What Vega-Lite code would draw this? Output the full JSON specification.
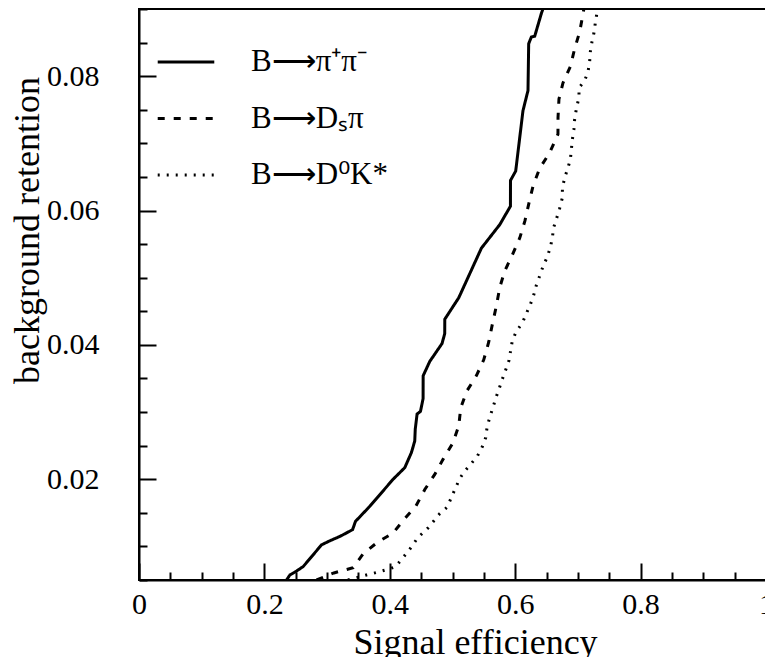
{
  "$schema": "https://vega.github.io/schema/vega-lite/v6.json",
  "width": 627,
  "height": 571,
  "autosize": {"type": "none"},
  "padding": {"left": 139, "top": 9, "right": 0, "bottom": 77},
  "background": "white",
  "config": {
    "font": "Liberation Serif",
    "view": {"stroke": "black", "strokeWidth": 2},
    "axis": {
      "grid": false,
      "domainColor": "black",
      "domainWidth": 2,
      "tickColor": "black",
      "tickWidth": 2,
      "labelColor": "black",
      "titleColor": "black",
      "labelFont": "Liberation Serif",
      "titleFont": "Liberation Serif",
      "labelFontSize": 30,
      "titleFontSize": 36,
      "titleFontWeight": "normal"
    }
  },
  "data": {
    "values": [
      {"s": "B⟶π⁺π⁻", "x": 0.2354, "y": 0.005},
      {"s": "B⟶π⁺π⁻", "x": 0.2406, "y": 0.00575},
      {"s": "B⟶π⁺π⁻", "x": 0.2497, "y": 0.00624},
      {"s": "B⟶π⁺π⁻", "x": 0.2618, "y": 0.00699},
      {"s": "B⟶π⁺π⁻", "x": 0.2912, "y": 0.01024},
      {"s": "B⟶π⁺π⁻", "x": 0.3044, "y": 0.01084},
      {"s": "B⟶π⁺π⁻", "x": 0.3203, "y": 0.01148},
      {"s": "B⟶π⁺π⁻", "x": 0.3406, "y": 0.01249},
      {"s": "B⟶π⁺π⁻", "x": 0.3453, "y": 0.01373},
      {"s": "B⟶π⁺π⁻", "x": 0.3681, "y": 0.01597},
      {"s": "B⟶π⁺π⁻", "x": 0.4053, "y": 0.02},
      {"s": "B⟶π⁺π⁻", "x": 0.4239, "y": 0.02172},
      {"s": "B⟶π⁺π⁻", "x": 0.4346, "y": 0.024},
      {"s": "B⟶π⁺π⁻", "x": 0.4398, "y": 0.0257},
      {"s": "B⟶π⁺π⁻", "x": 0.4406, "y": 0.02746},
      {"s": "B⟶π⁺π⁻", "x": 0.4435, "y": 0.0297},
      {"s": "B⟶π⁺π⁻", "x": 0.4489, "y": 0.0301},
      {"s": "B⟶π⁺π⁻", "x": 0.4531, "y": 0.032},
      {"s": "B⟶π⁺π⁻", "x": 0.4532, "y": 0.0354},
      {"s": "B⟶π⁺π⁻", "x": 0.4637, "y": 0.03753},
      {"s": "B⟶π⁺π⁻", "x": 0.4833, "y": 0.0402},
      {"s": "B⟶π⁺π⁻", "x": 0.4876, "y": 0.04168},
      {"s": "B⟶π⁺π⁻", "x": 0.4877, "y": 0.04382},
      {"s": "B⟶π⁺π⁻", "x": 0.51, "y": 0.04702},
      {"s": "B⟶π⁺π⁻", "x": 0.5461, "y": 0.0544},
      {"s": "B⟶π⁺π⁻", "x": 0.5753, "y": 0.05789},
      {"s": "B⟶π⁺π⁻", "x": 0.5924, "y": 0.06064},
      {"s": "B⟶π⁺π⁻", "x": 0.5925, "y": 0.06448},
      {"s": "B⟶π⁺π⁻", "x": 0.6008, "y": 0.06588},
      {"s": "B⟶π⁺π⁻", "x": 0.6124, "y": 0.07486},
      {"s": "B⟶π⁺π⁻", "x": 0.6204, "y": 0.07786},
      {"s": "B⟶π⁺π⁻", "x": 0.6215, "y": 0.08483},
      {"s": "B⟶π⁺π⁻", "x": 0.6258, "y": 0.08584},
      {"s": "B⟶π⁺π⁻", "x": 0.6311, "y": 0.08594},
      {"s": "B⟶π⁺π⁻", "x": 0.6417, "y": 0.08933},
      {"s": "B⟶π⁺π⁻", "x": 0.6454, "y": 0.09033},
      {"s": "B⟶Dₛπ", "x": 0.2832, "y": 0.005},
      {"s": "B⟶Dₛπ", "x": 0.3108, "y": 0.00605},
      {"s": "B⟶Dₛπ", "x": 0.3415, "y": 0.00683},
      {"s": "B⟶Dₛπ", "x": 0.3575, "y": 0.00889},
      {"s": "B⟶Dₛπ", "x": 0.3801, "y": 0.01061},
      {"s": "B⟶Dₛπ", "x": 0.4053, "y": 0.01199},
      {"s": "B⟶Dₛπ", "x": 0.4223, "y": 0.01398},
      {"s": "B⟶Dₛπ", "x": 0.4414, "y": 0.01597},
      {"s": "B⟶Dₛπ", "x": 0.4558, "y": 0.01847},
      {"s": "B⟶Dₛπ", "x": 0.4717, "y": 0.02072},
      {"s": "B⟶Dₛπ", "x": 0.4849, "y": 0.02296},
      {"s": "B⟶Dₛπ", "x": 0.5004, "y": 0.02536},
      {"s": "B⟶Dₛπ", "x": 0.51, "y": 0.02795},
      {"s": "B⟶Dₛπ", "x": 0.5131, "y": 0.0306},
      {"s": "B⟶Dₛπ", "x": 0.5227, "y": 0.0331},
      {"s": "B⟶Dₛπ", "x": 0.5382, "y": 0.03543},
      {"s": "B⟶Dₛπ", "x": 0.5498, "y": 0.03778},
      {"s": "B⟶Dₛπ", "x": 0.5578, "y": 0.04043},
      {"s": "B⟶Dₛπ", "x": 0.5637, "y": 0.04313},
      {"s": "B⟶Dₛπ", "x": 0.57, "y": 0.04582},
      {"s": "B⟶Dₛπ", "x": 0.5753, "y": 0.04852},
      {"s": "B⟶Dₛπ", "x": 0.5833, "y": 0.051},
      {"s": "B⟶Dₛπ", "x": 0.5955, "y": 0.0534},
      {"s": "B⟶Dₛπ", "x": 0.6072, "y": 0.0559},
      {"s": "B⟶Dₛπ", "x": 0.6156, "y": 0.05849},
      {"s": "B⟶Dₛπ", "x": 0.622, "y": 0.06114},
      {"s": "B⟶Dₛπ", "x": 0.6284, "y": 0.06364},
      {"s": "B⟶Dₛπ", "x": 0.639, "y": 0.06627},
      {"s": "B⟶Dₛπ", "x": 0.655, "y": 0.06862},
      {"s": "B⟶Dₛπ", "x": 0.6682, "y": 0.07136},
      {"s": "B⟶Dₛπ", "x": 0.6683, "y": 0.07386},
      {"s": "B⟶Dₛπ", "x": 0.6698, "y": 0.0766},
      {"s": "B⟶Dₛπ", "x": 0.6762, "y": 0.079},
      {"s": "B⟶Dₛπ", "x": 0.688, "y": 0.08145},
      {"s": "B⟶Dₛπ", "x": 0.6948, "y": 0.08409},
      {"s": "B⟶Dₛπ", "x": 0.7028, "y": 0.08659},
      {"s": "B⟶Dₛπ", "x": 0.7081, "y": 0.08924},
      {"s": "B⟶Dₛπ", "x": 0.71, "y": 0.0903},
      {"s": "B⟶D⁰K*", "x": 0.3331, "y": 0.005},
      {"s": "B⟶D⁰K*", "x": 0.3629, "y": 0.00575},
      {"s": "B⟶D⁰K*", "x": 0.3788, "y": 0.00612},
      {"s": "B⟶D⁰K*", "x": 0.3947, "y": 0.00654},
      {"s": "B⟶D⁰K*", "x": 0.4088, "y": 0.00695},
      {"s": "B⟶D⁰K*", "x": 0.4186, "y": 0.00804},
      {"s": "B⟶D⁰K*", "x": 0.4311, "y": 0.00949},
      {"s": "B⟶D⁰K*", "x": 0.4446, "y": 0.01129},
      {"s": "B⟶D⁰K*", "x": 0.4606, "y": 0.01271},
      {"s": "B⟶D⁰K*", "x": 0.4797, "y": 0.01488},
      {"s": "B⟶D⁰K*", "x": 0.4916, "y": 0.01585},
      {"s": "B⟶D⁰K*", "x": 0.4988, "y": 0.01743},
      {"s": "B⟶D⁰K*", "x": 0.5052, "y": 0.01877},
      {"s": "B⟶D⁰K*", "x": 0.5116, "y": 0.02012},
      {"s": "B⟶D⁰K*", "x": 0.5195, "y": 0.02121},
      {"s": "B⟶D⁰K*", "x": 0.5302, "y": 0.02237},
      {"s": "B⟶D⁰K*", "x": 0.5398, "y": 0.02346},
      {"s": "B⟶D⁰K*", "x": 0.5477, "y": 0.02487},
      {"s": "B⟶D⁰K*", "x": 0.553, "y": 0.02621},
      {"s": "B⟶D⁰K*", "x": 0.5551, "y": 0.02771},
      {"s": "B⟶D⁰K*", "x": 0.5594, "y": 0.02921},
      {"s": "B⟶D⁰K*", "x": 0.5646, "y": 0.0307},
      {"s": "B⟶D⁰K*", "x": 0.5689, "y": 0.03205},
      {"s": "B⟶D⁰K*", "x": 0.5742, "y": 0.03344},
      {"s": "B⟶D⁰K*", "x": 0.5796, "y": 0.03494},
      {"s": "B⟶D⁰K*", "x": 0.5849, "y": 0.03629},
      {"s": "B⟶D⁰K*", "x": 0.5901, "y": 0.03768},
      {"s": "B⟶D⁰K*", "x": 0.5928, "y": 0.03918},
      {"s": "B⟶D⁰K*", "x": 0.5955, "y": 0.04067},
      {"s": "B⟶D⁰K*", "x": 0.6019, "y": 0.04202},
      {"s": "B⟶D⁰K*", "x": 0.6115, "y": 0.04328},
      {"s": "B⟶D⁰K*", "x": 0.6178, "y": 0.04467},
      {"s": "B⟶D⁰K*", "x": 0.6242, "y": 0.04602},
      {"s": "B⟶D⁰K*", "x": 0.6295, "y": 0.04741},
      {"s": "B⟶D⁰K*", "x": 0.6338, "y": 0.04891},
      {"s": "B⟶D⁰K*", "x": 0.639, "y": 0.05025},
      {"s": "B⟶D⁰K*", "x": 0.6443, "y": 0.05166},
      {"s": "B⟶D⁰K*", "x": 0.6507, "y": 0.05301},
      {"s": "B⟶D⁰K*", "x": 0.6561, "y": 0.0545},
      {"s": "B⟶D⁰K*", "x": 0.6593, "y": 0.056},
      {"s": "B⟶D⁰K*", "x": 0.6614, "y": 0.0575},
      {"s": "B⟶D⁰K*", "x": 0.6666, "y": 0.059},
      {"s": "B⟶D⁰K*", "x": 0.6709, "y": 0.06033},
      {"s": "B⟶D⁰K*", "x": 0.6752, "y": 0.06189},
      {"s": "B⟶D⁰K*", "x": 0.6753, "y": 0.06338},
      {"s": "B⟶D⁰K*", "x": 0.6789, "y": 0.06488},
      {"s": "B⟶D⁰K*", "x": 0.6842, "y": 0.06638},
      {"s": "B⟶D⁰K*", "x": 0.688, "y": 0.06762},
      {"s": "B⟶D⁰K*", "x": 0.6896, "y": 0.06912},
      {"s": "B⟶D⁰K*", "x": 0.6912, "y": 0.07061},
      {"s": "B⟶D⁰K*", "x": 0.6937, "y": 0.07211},
      {"s": "B⟶D⁰K*", "x": 0.6948, "y": 0.07361},
      {"s": "B⟶D⁰K*", "x": 0.6975, "y": 0.0751},
      {"s": "B⟶D⁰K*", "x": 0.7017, "y": 0.07686},
      {"s": "B⟶D⁰K*", "x": 0.7018, "y": 0.07825},
      {"s": "B⟶D⁰K*", "x": 0.7108, "y": 0.07936},
      {"s": "B⟶D⁰K*", "x": 0.716, "y": 0.0806},
      {"s": "B⟶D⁰K*", "x": 0.7187, "y": 0.0821},
      {"s": "B⟶D⁰K*", "x": 0.7198, "y": 0.0836},
      {"s": "B⟶D⁰K*", "x": 0.7224, "y": 0.08509},
      {"s": "B⟶D⁰K*", "x": 0.7256, "y": 0.08644},
      {"s": "B⟶D⁰K*", "x": 0.7278, "y": 0.08793},
      {"s": "B⟶D⁰K*", "x": 0.7304, "y": 0.08943},
      {"s": "B⟶D⁰K*", "x": 0.7323, "y": 0.0905}
    ]
  },
  "mark": {"type": "line", "color": "black", "strokeWidth": 3, "clip": true, "interpolate": "linear"},
  "encoding": {
    "x": {
      "field": "x",
      "type": "quantitative",
      "scale": {"domain": [0, 1], "nice": false, "zero": false},
      "axis": {
        "title": "Signal efficiency",
        "values": [0, 0.05, 0.1, 0.15, 0.2, 0.25, 0.3, 0.35, 0.4, 0.45, 0.5, 0.55, 0.6, 0.65, 0.7, 0.75, 0.8, 0.85, 0.9, 0.95, 1],
        "labelExpr": "abs(datum.value*5 - round(datum.value*5)) < 1e-6 ? format(datum.value, '~g') : ''",
        "tickSize": {"condition": {"test": "abs(datum.value*5 - round(datum.value*5)) < 1e-6", "value": -17}, "value": -8},
        "labelPadding": 26,
        "labelBaseline": "top",
        "labelFlush": false,
        "labelOverlap": false,
        "titleX": 336,
        "titleY": 73,
        "titleBaseline": "alphabetic",
        "titleAnchor": null,
        "titleAlign": "center"
      }
    },
    "y": {
      "field": "y",
      "type": "quantitative",
      "scale": {"domain": [0.005, 0.09], "nice": false, "zero": false},
      "axis": {
        "title": "background retention",
        "values": [0.005, 0.01, 0.015, 0.02, 0.025, 0.03, 0.035, 0.04, 0.045, 0.05, 0.055, 0.06, 0.065, 0.07, 0.075, 0.08, 0.085, 0.09],
        "format": ".2f",
        "labelOpacity": {"condition": {"test": "abs(datum.value*50 - round(datum.value*50)) < 1e-6", "value": 1}, "value": 0},
        "tickSize": {"condition": {"test": "abs(datum.value*50 - round(datum.value*50)) < 1e-6", "value": -17}, "value": -8},
        "labelPadding": 57,
        "labelBaseline": "middle",
        "labelFlush": false,
        "labelOverlap": false,
        "titleX": -101,
        "titleY": 221,
        "titleAngle": -90,
        "titleBaseline": "alphabetic",
        "titleAnchor": null,
        "titleAlign": "center"
      }
    },
    "strokeDash": {
      "field": "s",
      "type": "nominal",
      "scale": {"domain": ["B⟶π⁺π⁻", "B⟶Dₛπ", "B⟶D⁰K*"], "range": [[1, 0], [7, 9], [2, 7]]},
      "legend": {
        "title": null,
        "orient": "none",
        "legendX": 17,
        "legendY": 23,
        "padding": 0,
        "symbolType": "stroke",
        "symbolSize": 3200,
        "symbolStrokeWidth": 3,
        "symbolStrokeColor": "black",
        "labelFont": "Liberation Serif",
        "labelFontSize": 31,
        "labelColor": "black",
        "labelOffset": 35,
        "rowPadding": 11.5,
        "labelLimit": 400
      }
    },
    "order": {"field": "y", "type": "quantitative"}
  }
}
